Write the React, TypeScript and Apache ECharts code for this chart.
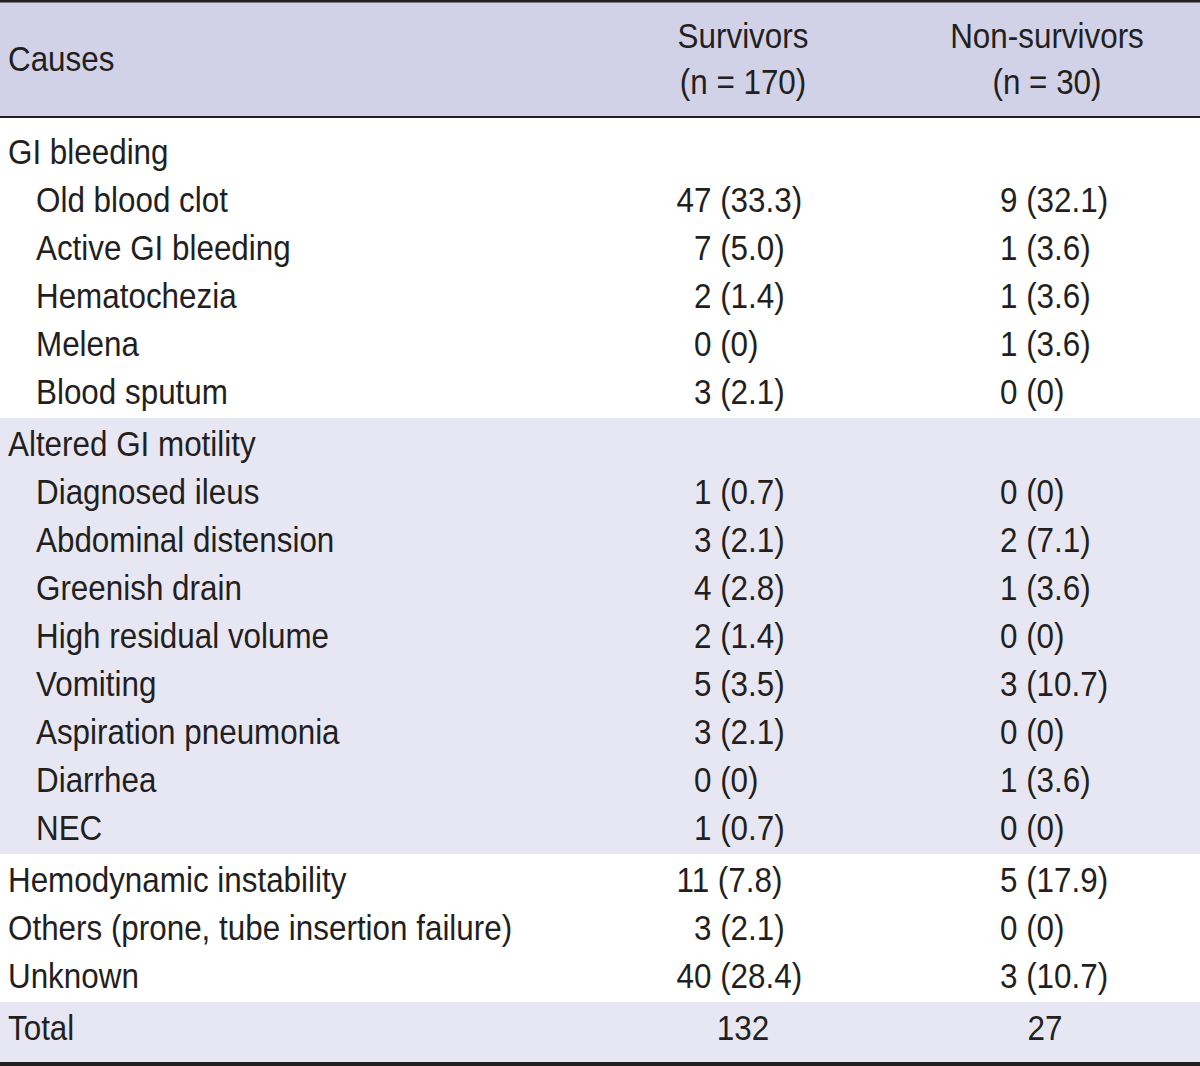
import React, { useEffect, useRef } from "react";
import * as echarts from "echarts";

// ---------- data ----------
const headerCauses = "Causes";
const headerSurvivors = ["Survivors", "(n = 170)"];
const headerNonSurvivors = ["Non-survivors", "(n = 30)"];

const causes = [
  "GI bleeding",
  "Old blood clot",
  "Active GI bleeding",
  "Hematochezia",
  "Melena",
  "Blood sputum",
  "Altered GI motility",
  "Diagnosed ileus",
  "Abdominal distension",
  "Greenish drain",
  "High residual volume",
  "Vomiting",
  "Aspiration pneumonia",
  "Diarrhea",
  "NEC",
  "Hemodynamic instability",
  "Others (prone, tube insertion failure)",
  "Unknown",
  "Total",
];
// 0 = group heading / top-level row, 1 = indented sub-item
const indentLevel = [0, 1, 1, 1, 1, 1, 0, 1, 1, 1, 1, 1, 1, 1, 1, 0, 0, 0, 0];
// section each row belongs to
const sectionOf = [0, 0, 0, 0, 0, 0, 1, 1, 1, 1, 1, 1, 1, 1, 1, 2, 2, 2, 3];
const sectionShaded = [false, true, false, true];

const survivors = [
  "", "47 (33.3)", "7 (5.0)", "2 (1.4)", "0 (0)", "3 (2.1)",
  "", "1 (0.7)", "3 (2.1)", "4 (2.8)", "2 (1.4)", "5 (3.5)", "3 (2.1)", "0 (0)", "1 (0.7)",
  "11 (7.8)", "3 (2.1)", "40 (28.4)", "132",
];
const nonSurvivors = [
  "", "9 (32.1)", "1 (3.6)", "1 (3.6)", "1 (3.6)", "0 (0)",
  "", "0 (0)", "2 (7.1)", "1 (3.6)", "0 (0)", "3 (10.7)", "0 (0)", "1 (3.6)", "0 (0)",
  "5 (17.9)", "0 (0)", "3 (10.7)", "27",
];

// ---------- style / layout ----------
const W = 1200;
const H = 1066;
const TEXT = "#231f20";
const HEADER_BG = "#d1d1e7";
const BAND_BG = "#e7e7f3";
const FONT = "'Liberation Sans', Arial, sans-serif";
const FS = 35;
const SX = 0.897;
const PITCH = 48; // px per row
const FIRST_Y = 152; // px centre of first body row
const SECTION_GAP = 1 / 12; // extra rows between sections
const GRID_TOP = 118;
const GRID_BOTTOM = 1062;
const DIGIT_W = 0.556 * FS * SX;
const SURV_NUM_END = 694 + DIGIT_W;
const NONSURV_NUM_END = 1000 + DIGIT_W;

const rowValue = (k: number) => k + sectionOf[k] * SECTION_GAP;

export default function App() {
  const ref = useRef<HTMLDivElement>(null);
  useEffect(() => {
    if (!ref.current) return;
    const chart = echarts.init(ref.current, undefined, { renderer: "svg" });
    const yMin = (GRID_TOP - FIRST_Y) / PITCH;
    const yMax = (GRID_BOTTOM - FIRST_Y) / PITCH;

    const txt = (text: string, x: number, y: number, align: string) => ({
      type: "text",
      x,
      y,
      scaleX: SX,
      style: {
        text,
        fill: TEXT,
        fontSize: FS,
        fontFamily: FONT,
        align,
        verticalAlign: "middle",
      },
    });

    // section bands
    const sections = sectionShaded.map((shaded, s) => {
      const rows = sectionOf.map((v, i) => (v === s ? i : -1)).filter((i) => i >= 0);
      return [s, rowValue(rows[0]), rowValue(rows[rows.length - 1]), shaded ? 1 : 0];
    });

    const option: any = {
      animation: false,
      grid: { left: 0, right: 0, top: GRID_TOP, bottom: H - GRID_BOTTOM },
      xAxis: { type: "value", min: 0, max: W, show: false },
      yAxis: { type: "value", min: yMin, max: yMax, inverse: true, show: false },
      series: [
        {
          type: "custom",
          silent: true,
          data: sections,
          renderItem: (params: any, api: any) => {
            const s = api.value(0) as number;
            if (!api.value(3)) return { type: "group", children: [] };
            const half = 0.5 + SECTION_GAP / 2;
            const top = api.coord([0, (api.value(1) as number) - half])[1];
            const last = s === sectionShaded.length - 1;
            const bottom = last ? api.coord([0, yMax])[1] : api.coord([0, (api.value(2) as number) + half])[1];
            const x0 = api.coord([0, 0])[0];
            const x1 = api.coord([W, 0])[0];
            return {
              type: "rect",
              shape: { x: x0, y: top, width: x1 - x0, height: bottom - top },
              style: { fill: BAND_BG },
            };
          },
        },
        {
          type: "custom",
          silent: true,
          z: 3,
          data: causes.map((_, k) => [k, rowValue(k)]),
          renderItem: (params: any, api: any) => {
            const k = api.value(0) as number;
            const y = api.coord([0, api.value(1)])[1];
            const children: any[] = [];
            children.push(txt(causes[k], indentLevel[k] ? 36 : 8, y, "left"));
            const sv = survivors[k];
            const nv = nonSurvivors[k];
            if (sv) {
              if (sv.indexOf("(") < 0) children.push(txt(sv, api.coord([743, 0])[0], y, "center"));
              else {
                const digits = sv.split(" ")[0].length;
                children.push(txt(sv, api.coord([SURV_NUM_END - digits * DIGIT_W, 0])[0], y, "left"));
              }
            }
            if (nv) {
              if (nv.indexOf("(") < 0) children.push(txt(nv, api.coord([1045, 0])[0], y, "center"));
              else {
                const digits = nv.split(" ")[0].length;
                children.push(txt(nv, api.coord([NONSURV_NUM_END - digits * DIGIT_W, 0])[0], y, "left"));
              }
            }
            return { type: "group", children };
          },
        },
      ],
      graphic: [
        { type: "rect", z: 50, shape: { x: 0, y: 2, width: W, height: 114 }, style: { fill: HEADER_BG } },
        { type: "rect", z: 60, shape: { x: 0, y: 0, width: W, height: 2.4 }, style: { fill: TEXT } },
        { type: "rect", z: 60, shape: { x: 0, y: 116, width: W, height: 2 }, style: { fill: TEXT } },
        { type: "rect", z: 60, shape: { x: 0, y: GRID_BOTTOM, width: W, height: H - GRID_BOTTOM }, style: { fill: TEXT } },
        { ...txt(headerCauses, 8, 59, "left"), z: 60 },
        { ...txt(headerSurvivors[0], 743, 36, "center"), z: 60 },
        { ...txt(headerSurvivors[1], 743, 82, "center"), z: 60 },
        { ...txt(headerNonSurvivors[0], 1047, 36, "center"), z: 60 },
        { ...txt(headerNonSurvivors[1], 1047, 82, "center"), z: 60 },
      ],
    };
    chart.setOption(option);
    return () => chart.dispose();
  }, []);
  return (
    <div
      ref={ref}
      style={{ position: "absolute", left: 0, top: 0, width: W, height: H, background: "#fff" }}
    />
  );
}
